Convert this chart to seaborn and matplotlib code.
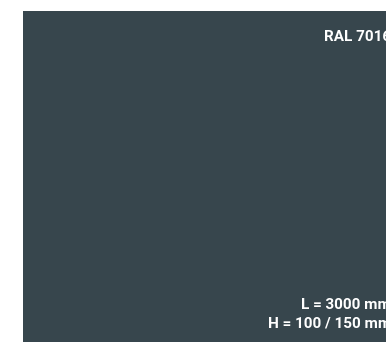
import numpy as np
import matplotlib
matplotlib.use("Agg")
import matplotlib.pyplot as plt
import seaborn as sns
from matplotlib.colors import ListedColormap

# Swatch data
swatch_name = ["RAL 7016"]
swatch_color = ["#37464d"]
dimension_labels = ["L = 3000 mm", "H = 100 / 150 mm"]

sns.set_style("white")
plt.rcParams['font.family'] = ['Roboto', 'DejaVu Sans']

W, H = 386, 342
fig = plt.figure(figsize=(W / 100, H / 100), dpi=100)
fig.patch.set_facecolor("white")

# one-cell heatmap as the colour panel
ax = fig.add_axes([23 / W, 0, (W - 23) / W, (H - 11) / H])
sns.heatmap(np.array([[1]]), cmap=ListedColormap(swatch_color), cbar=False,
            xticklabels=False, yticklabels=False, ax=ax)
ax.set_xlabel("")
ax.set_ylabel("")

# labels (right aligned, running past the edge like the original)
right = 391 / W
fig.text(right, 1 - 41 / H, swatch_name[0], color="white", fontsize=11,
         fontweight="bold", ha="right", va="baseline")
fig.text(right, 1 - 309 / H, dimension_labels[0], color="white", fontsize=11,
         fontweight="bold", ha="right", va="baseline")
fig.text(right, 1 - 328 / H, dimension_labels[1], color="white", fontsize=11,
         fontweight="bold", ha="right", va="baseline")

fig.savefig("out.png", dpi=100, facecolor="white")
